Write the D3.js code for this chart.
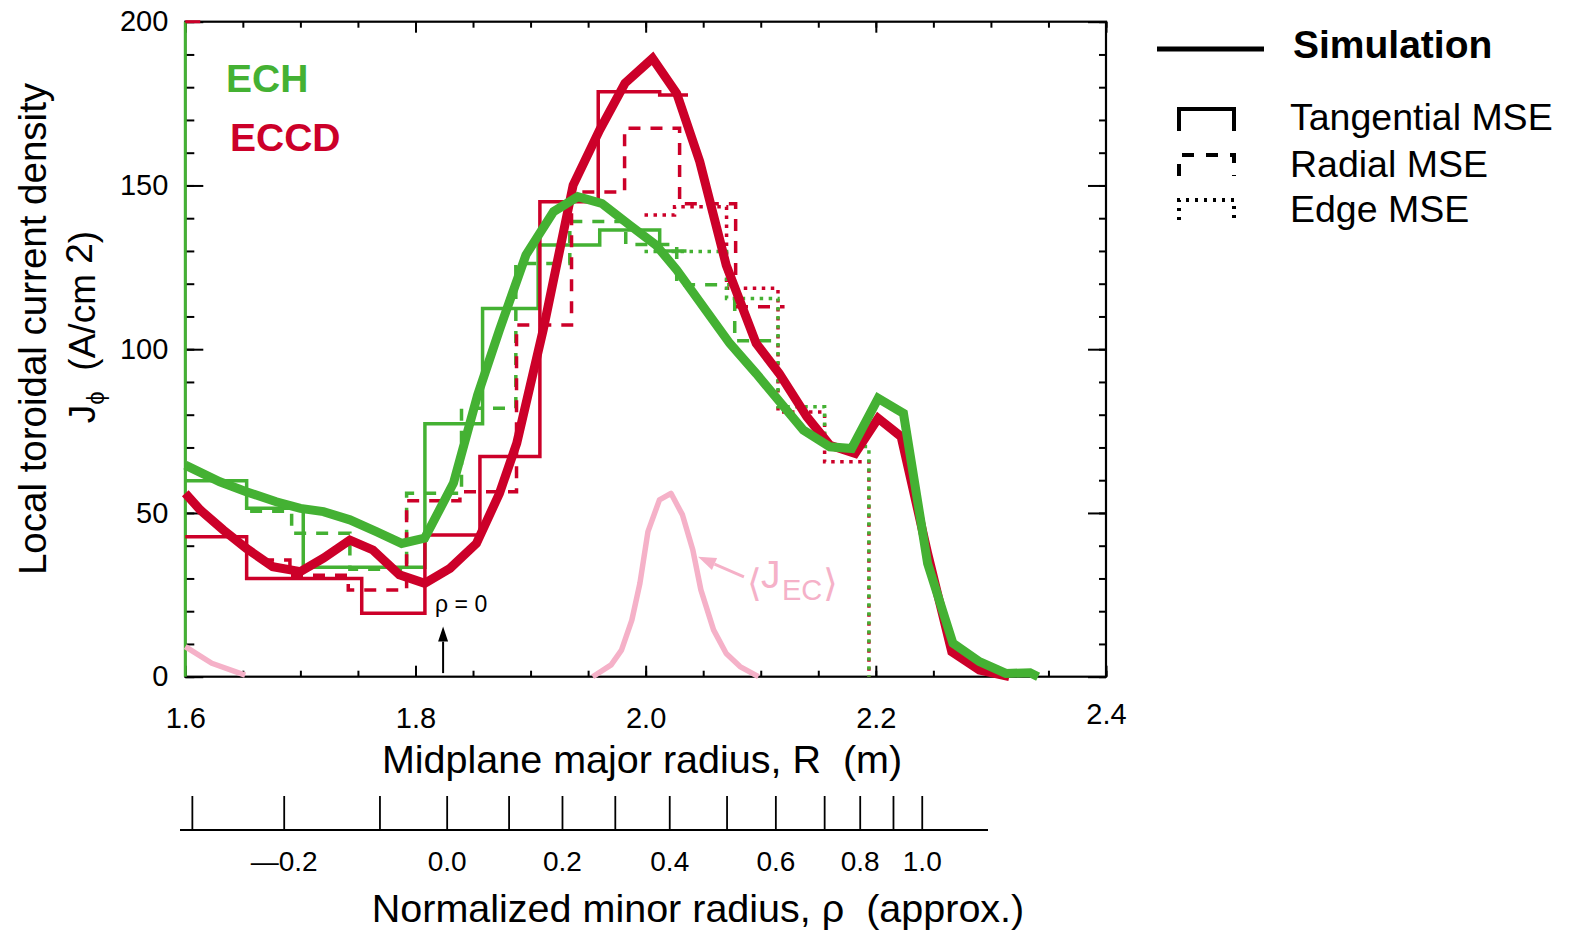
<!DOCTYPE html>
<html><head><meta charset="utf-8">
<script src="https://cdn.jsdelivr.net/npm/d3@7"></script>
<style>
body{margin:0;background:#fff;}
svg{display:block;font-family:"Liberation Sans",Arial,Helvetica,sans-serif;}
</style>
</head><body>
<svg id="c" width="1570" height="933"></svg>
<script>
// ---------------- data ----------------
const xTicks = [1.6, 1.8, 2.0, 2.2, 2.4];
const xMinorTicks = [1.6,1.65,1.7,1.75,1.8,1.85,1.9,1.95,2.0,2.05,2.1,2.15,2.2,2.25,2.3,2.35,2.4];
const yTicks = [0, 50, 100, 150, 200];
const yMinorTicks = [0,10,20,30,40,50,60,70,80,90,100,110,120,130,140,150,160,170,180,190,200];

// normalized minor radius ticks and the major radius R they sit at
const rhoVals = [-0.3,-0.2,-0.1,0.0,0.1,0.2,0.3,0.4,0.5,0.6,0.7,0.8,0.9,1.0];
const rhoAtR  = [1.6057,1.6855,1.7687,1.8271,1.8809,1.9273,1.9732,2.0205,2.0703,2.1127,2.1551,2.1860,2.2149,2.2399];
const rhoLabels = [-0.2,0.0,0.2,0.4,0.6,0.8,1.0];
const rhoZeroR = 1.824;

// Simulation curves
const echSimR = [1.600,1.630,1.653,1.679,1.700,1.720,1.743,1.766,1.788,1.808,1.833,1.854,1.873,1.896,1.920,1.941,1.962,1.986,2.009,2.027,2.073,2.096,2.137,2.160,2.179,2.202,2.224,2.245,2.267,2.290,2.313,2.334,2.341];
const echSimJ = [64.6,59.5,56.5,53.4,51.4,50.4,47.9,44.3,40.7,42.3,59.1,86.0,105.9,128.8,142.0,146.6,144.5,137.9,131.8,124.2,101.8,92.6,75.3,70.2,69.7,85.0,80.4,34.6,10.2,4.6,1.0,1.2,0];
const eccdSimR = [1.600,1.613,1.633,1.653,1.676,1.700,1.720,1.743,1.763,1.786,1.808,1.830,1.853,1.873,1.888,1.911,1.937,1.960,1.982,2.006,2.027,2.047,2.070,2.096,2.116,2.140,2.160,2.182,2.202,2.222,2.245,2.266,2.290,2.316];
const eccdSimJ = [56.0,50.9,44.8,39.2,33.6,32.1,36.2,41.7,38.7,31.1,28.5,33.1,40.7,56.0,71.3,105.9,150.1,166.9,181.2,188.8,178.1,157.3,125.7,101.8,92.6,79.4,70.7,68.2,78.9,73.3,37.7,7.6,2.0,0];

// <J_EC> profile
const jecR = [1.954,1.970,1.979,1.988,1.995,2.002,2.012,2.022,2.032,2.041,2.048,2.059,2.070,2.082,2.098];
const jecJ = [0,3.6,8.1,17.3,28.5,44.3,54.0,56.0,49.4,38.7,26.5,14.3,7.1,3.1,0];
const jecLeftR = [1.600,1.623,1.652];
const jecLeftJ = [9.2,4.1,0.5];

// MSE step data: bin edges (R) and bin values (J)
const echTanEdges = [1.6,1.6533,1.7025,1.8082,1.8583,1.9066,1.9601,2.0122,2.0355];
const echTanVals  = [59.8,51.4,33.4,77.2,112.4,131.8,136.4,130.0];
const eccdTanEdges = [1.6,1.6533,1.7533,1.8082,1.8560,1.9081,1.9588,2.0122,2.0368];
const eccdTanVals  = [42.7,30.0,19.4,43.3,67.2,145.0,178.6,177.6];

const echRadEdges = [1.6563,1.6924,1.7430,1.7923,1.8400,1.8872,1.9341,1.9827,2.0270,2.0774,2.1121];
const echRadVals  = [50.5,43.8,32.8,56.0,82.0,126.2,139.0,132.0,119.7,102.6];
const eccdRadEdges = [1.6667,1.6909,1.7416,1.7923,1.8386,1.8878,1.9356,1.9817,2.0295,2.0782,2.1207];
const eccdRadVals  = [35.6,31.0,26.5,53.7,56.5,107.4,148.0,167.5,144.4,113.0];

const echEdgeEdges = [1.9990,2.0703,2.1150,2.1555,2.1940];
const echEdgeVals  = [129.8,115.5,82.4,70.3];
const eccdEdgeEdges = [1.9990,2.0251,2.0703,2.1150,2.1555,2.1940];
const eccdEdgeVals  = [141.0,143.5,118.6,80.8,65.6];

// annotation anchors (data coordinates)
const jecArrowTail = [2.0854, 30.5];
const jecArrowTip  = [2.0455, 36.6];

// ---------------- chart ----------------
const GREEN = "#44b133", RED = "#cc0029", PINK = "#f5b1c8";
const FONT = '"Liberation Sans",Arial,Helvetica,sans-serif';
const svg = d3.select("#c");
const x = d3.scaleLinear().domain([1.6, 2.4]).range([185.3, 1106]);
const y = d3.scaleLinear().domain([0, 200]).range([676.7, 21.7]);
const line = d3.line().x(d => x(d[0])).y(d => y(d[1]));

function styleAxis(g, size){
  g.attr("font-family", FONT).attr("font-size", size);
  g.select(".domain").remove();
  g.selectAll(".tick line").attr("stroke", "#000").attr("stroke-width", 2);
  g.selectAll(".tick text").attr("fill", "#000");
}
const gAx = svg.append("g");
gAx.append("g").attr("transform", `translate(0,${y(0)})`)
  .call(d3.axisBottom(x).tickValues(xMinorTicks).tickSize(-6).tickFormat(""))
  .call(g => styleAxis(g, 10));
gAx.append("g").attr("transform", `translate(0,${y(0)})`)
  .call(d3.axisBottom(x).tickValues(xTicks).tickSize(-11).tickPadding(31).tickFormat(d3.format(".1f")))
  .call(g => styleAxis(g, 29))
  .call(g => g.selectAll(".tick text").filter(d => d === 2.4).attr("dy", "0.55em"));
gAx.append("g").attr("transform", `translate(0,${y(200)})`)
  .call(d3.axisTop(x).tickValues(xMinorTicks).tickSize(-6).tickFormat(""))
  .call(g => styleAxis(g, 10));
gAx.append("g").attr("transform", `translate(0,${y(200)})`)
  .call(d3.axisTop(x).tickValues(xTicks).tickSize(-11).tickFormat(""))
  .call(g => styleAxis(g, 10));
gAx.append("g").attr("transform", `translate(${x(1.6)},0)`)
  .call(d3.axisLeft(y).tickValues(yMinorTicks).tickSize(-9).tickFormat(""))
  .call(g => styleAxis(g, 10));
gAx.append("g").attr("transform", `translate(${x(1.6)},0)`)
  .call(d3.axisLeft(y).tickValues(yTicks).tickSize(-18).tickPadding(17).tickFormat(d3.format("d")))
  .call(g => styleAxis(g, 29));
gAx.append("g").attr("transform", `translate(${x(2.4)},0)`)
  .call(d3.axisRight(y).tickValues(yMinorTicks).tickSize(-7).tickFormat(""))
  .call(g => styleAxis(g, 10));
gAx.append("g").attr("transform", `translate(${x(2.4)},0)`)
  .call(d3.axisRight(y).tickValues(yTicks).tickSize(-18).tickFormat(""))
  .call(g => styleAxis(g, 10));

// frame
svg.append("rect").attr("x", x(1.6)).attr("y", y(200))
  .attr("width", x(2.4) - x(1.6)).attr("height", y(0) - y(200))
  .attr("fill", "none").attr("stroke", "#000").attr("stroke-width", 2.2);
svg.append("path").attr("d", line([[1.6,0],[1.6,200]])).attr("stroke", GREEN).attr("stroke-width", 3).attr("fill","none");
svg.append("path").attr("d", line([[1.6,200],[1.613,200]])).attr("stroke", RED).attr("stroke-width", 3).attr("fill","none");

// ---- MSE step lines ----
function stepPts(edges, vals, drop){
  const p = [];
  vals.forEach((v, i) => { p.push([edges[i], v]); p.push([edges[i+1], v]); });
  if (drop) p.push([edges[edges.length-1], 0]);
  return p;
}
const DASH = "12,10", DOT = "3.5,5.5";
const stepDefs = [
  {edges: echTanEdges,  vals: echTanVals,  color: GREEN, dash: null, drop: false},
  {edges: eccdTanEdges, vals: eccdTanVals, color: RED,   dash: null, drop: false},
  {edges: echRadEdges,  vals: echRadVals,  color: GREEN, dash: DASH, drop: false},
  {edges: eccdRadEdges, vals: eccdRadVals, color: RED,   dash: DASH, drop: false},
  {edges: eccdEdgeEdges,vals: eccdEdgeVals,color: RED,   dash: DOT,  drop: true},
  {edges: echEdgeEdges, vals: echEdgeVals, color: GREEN, dash: DOT,  drop: true}
];
svg.append("g").selectAll("path").data(stepDefs).join("path")
  .attr("d", d => line(stepPts(d.edges, d.vals, d.drop)))
  .attr("fill", "none").attr("stroke", d => d.color)
  .attr("stroke-width", 3.5)
  .attr("stroke-dasharray", d => d.dash)
  .attr("stroke-linejoin", "miter");

// ---- <J_EC> ----
const zip = (a, b) => a.map((v, i) => [v, b[i]]);
svg.append("path").attr("d", line(zip(jecR, jecJ)))
  .attr("fill", "none").attr("stroke", PINK).attr("stroke-width", 5.5).attr("stroke-linejoin", "round");
svg.append("path").attr("d", line(zip(jecLeftR, jecLeftJ)))
  .attr("fill", "none").attr("stroke", PINK).attr("stroke-width", 5.5).attr("stroke-linejoin", "round");

// ---- simulations ----
svg.append("path").attr("d", line(zip(eccdSimR, eccdSimJ)))
  .attr("fill", "none").attr("stroke", RED).attr("stroke-width", 9).attr("stroke-linejoin", "miter").attr("stroke-miterlimit", 6);
svg.append("path").attr("d", line(zip(echSimR, echSimJ)))
  .attr("fill", "none").attr("stroke", GREEN).attr("stroke-width", 9).attr("stroke-linejoin", "miter").attr("stroke-miterlimit", 6);

// ---- arrows ----
function arrow(g, x0, y0, x1, y1, color, w, headL, headW){
  const ang = Math.atan2(y1 - y0, x1 - x0);
  const bx = x1 - headL * Math.cos(ang), by = y1 - headL * Math.sin(ang);
  g.append("line").attr("x1", x0).attr("y1", y0).attr("x2", bx).attr("y2", by)
    .attr("stroke", color).attr("stroke-width", w);
  const px = -Math.sin(ang) * headW / 2, py = Math.cos(ang) * headW / 2;
  g.append("path").attr("d", `M${x1},${y1}L${bx + px},${by + py}L${bx - px},${by - py}Z`).attr("fill", color);
}
const ann = svg.append("g");
arrow(ann, x(jecArrowTail[0]), y(jecArrowTail[1]), x(jecArrowTip[0]), y(jecArrowTip[1]), PINK, 3, 18, 13);
{
  const bx = x(jecArrowTail[0]) + 3, by = y(jecArrowTail[1]);
  ann.append("text").attr("x", bx).attr("y", by + 19).attr("fill", PINK)
    .attr("font-family", '"DejaVu Sans",sans-serif').attr("font-size", 38).attr("font-weight", 200).text("⟨");
  ann.append("text").attr("x", bx + 14).attr("y", by + 11).attr("fill", PINK)
    .attr("font-size", 39).text("J");
  ann.append("text").attr("x", bx + 35).attr("y", by + 23).attr("fill", PINK)
    .attr("font-size", 29).text("EC");
  ann.append("text").attr("x", bx + 76).attr("y", by + 19).attr("fill", PINK)
    .attr("font-family", '"DejaVu Sans",sans-serif').attr("font-size", 38).attr("font-weight", 200).text("⟩");
}
// rho = 0 arrow
arrow(ann, x(rhoZeroR), y(1.1), x(rhoZeroR), y(15.3), "#000", 2, 15, 10);
ann.append("text").attr("x", x(rhoZeroR) - 8).attr("y", y(19.8)).attr("font-size", 23).text("ρ = 0");

// ECH / ECCD labels
ann.append("text").attr("x", 226).attr("y", 92).attr("font-size", 39).attr("font-weight", "bold").attr("fill", GREEN).text("ECH");
ann.append("text").attr("x", 230).attr("y", 151).attr("font-size", 39).attr("font-weight", "bold").attr("fill", RED).text("ECCD");

// axis titles
svg.append("text").attr("x", 642).attr("y", 773).attr("text-anchor", "middle")
  .attr("font-size", 39.5).style("white-space", "pre").text("Midplane major radius, R  (m)");
svg.append("text").attr("transform", "translate(46,329) rotate(-90)").attr("text-anchor", "middle")
  .attr("font-size", 38.5).text("Local toroidal current density");
{
  const t = svg.append("text").attr("transform", "translate(95,327) rotate(-90)").attr("text-anchor", "middle")
    .attr("font-size", 37).style("white-space", "pre");
  t.append("tspan").text("J");
  t.append("tspan").attr("font-size", 24).attr("dy", 9).text("ϕ");
  t.append("tspan").attr("dy", -9).text("  (A/cm");
  t.append("tspan").attr("dy", -3).text(" 2");
  t.append("tspan").attr("dy", 3).text(")");
}

// ---- secondary rho axis ----
const rhoScale = d3.scaleLinear().domain(rhoVals).range(rhoAtR.map(r => x(r)));
const rhoLineY = 830;
svg.append("line").attr("x1", 180).attr("x2", 988).attr("y1", rhoLineY).attr("y2", rhoLineY)
  .attr("stroke", "#000").attr("stroke-width", 2.2);
svg.append("g").attr("transform", `translate(0,${rhoLineY})`)
  .call(d3.axisBottom(rhoScale).tickValues(rhoVals).tickSize(-34).tickPadding(21)
    .tickFormat(d => rhoLabels.some(v => Math.abs(v - d) < 1e-9) ? (d < 0 ? "—" + Math.abs(d).toFixed(1) : d.toFixed(1)) : ""))
  .call(g => styleAxis(g, 28))
  .call(g => g.selectAll(".tick line").attr("stroke-width", 1.8));
svg.append("text").attr("x", 698).attr("y", 922).attr("text-anchor", "middle")
  .attr("font-size", 39.5).style("white-space", "pre").text("Normalized minor radius, ρ  (approx.)");

// ---- legend ----
const lg = svg.append("g");
lg.append("line").attr("x1", 1157).attr("x2", 1264).attr("y1", 49).attr("y2", 49).attr("stroke", "#000").attr("stroke-width", 5);
lg.append("text").attr("x", 1293).attr("y", 58).attr("font-size", 39).attr("font-weight", "bold").text("Simulation");
const lgItems = [
  {label: "Tangential MSE", dash: null, top: 109, bottom: 131, ty: 130},
  {label: "Radial MSE", dash: "12,12", top: 155, bottom: 176, ty: 177},
  {label: "Edge MSE", dash: "3,6", top: 200, bottom: 220, ty: 222}
];
lg.selectAll("path.sym").data(lgItems).join("path").attr("class", "sym")
  .attr("d", d => `M1179,${d.bottom}V${d.top}H1234V${d.bottom}`)
  .attr("fill", "none").attr("stroke", "#000").attr("stroke-width", 4).attr("stroke-dasharray", d => d.dash);
lg.selectAll("text.lab").data(lgItems).join("text").attr("class", "lab")
  .attr("x", 1290).attr("y", d => d.ty).attr("font-size", 37.5).text(d => d.label);
</script>
</body></html>
